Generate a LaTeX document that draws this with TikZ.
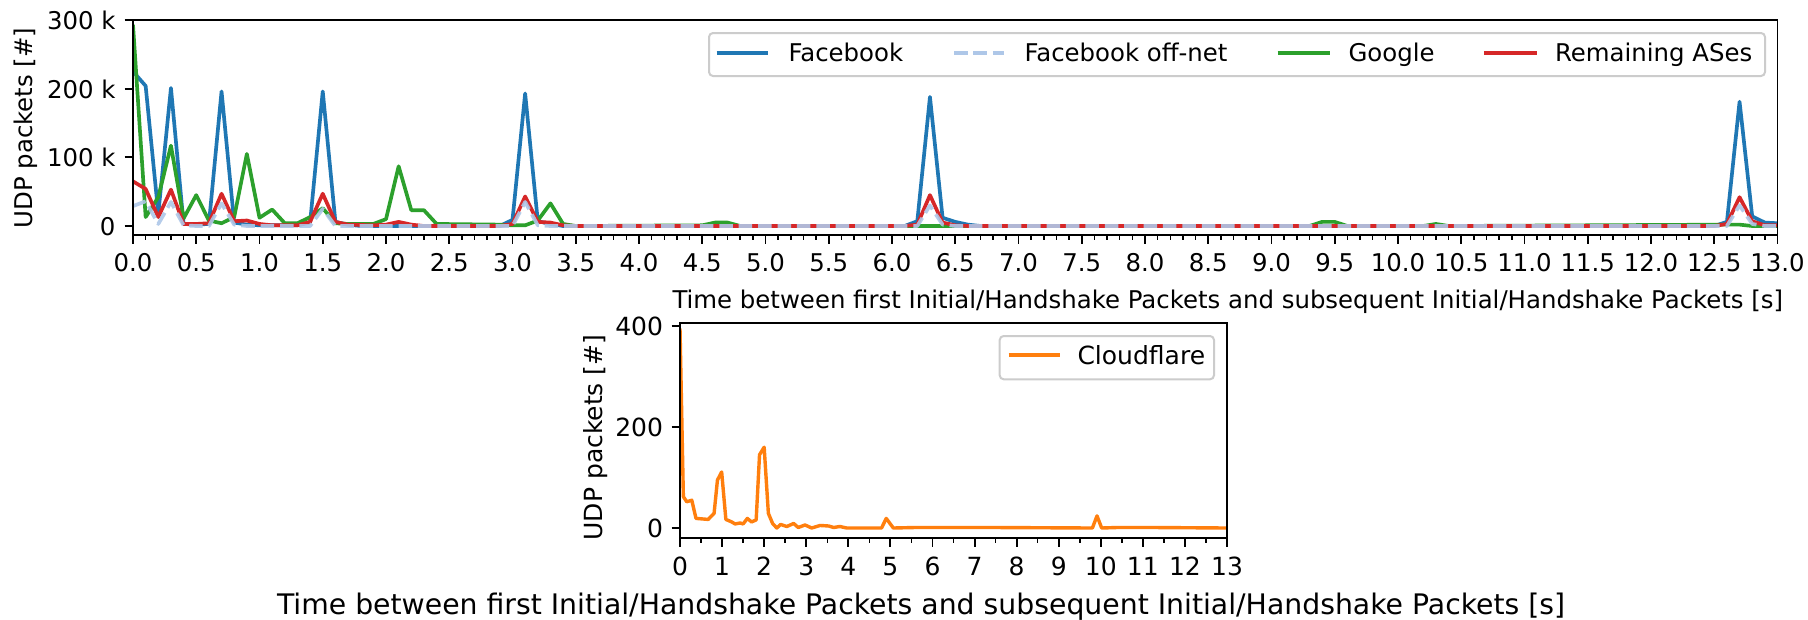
\documentclass[tikz,border=0pt]{standalone}
\usepackage{fontspec}
\setmainfont{DejaVu Sans}
\definecolor{mplblue}{HTML}{1F77B4}
\definecolor{mplorange}{HTML}{FF7F0E}
\definecolor{mplgreen}{HTML}{2CA02C}
\definecolor{mplred}{HTML}{D62728}
\definecolor{mpllight}{HTML}{AEC7E8}
\definecolor{legedge}{HTML}{CCCCCC}
\newcommand{\fta}{\fontsize{24.4}{29}\selectfont}
\newcommand{\ftb}{\fontsize{25}{30}\selectfont}
\newcommand{\ftc}{\fontsize{28.3}{34}\selectfont}
\begin{document}
\begin{tikzpicture}[x=1pt,y=-1pt,
  spine/.style={line width=1.95pt, black},
  majtick/.style={line width=1.95pt, black},
  mintick/.style={line width=1.46pt, black},
  series/.style={line width=3.66pt, line join=round},
  txt/.style={inner sep=0pt, outer sep=0pt},
  legbox/.style={draw=legedge, line width=2pt, fill=white, fill opacity=0.8, rounded corners=4pt},
  legline/.style={line width=3.66pt},
  offnet/.style={series, mpllight, dash pattern=on 13.5pt off 5.9pt}
]
\useasboundingbox (0,0) rectangle (1808,619);
\fill[white] (0,0) rectangle (1808,619);

% ---------------- top plot data ----------------
\begin{scope}[shift={(133,226)}, x=126.5pt, y=0.6867pt]
  \clip (0,-13.1) rectangle (13,300);
  \draw[series, mplblue] plot coordinates {(0,225) (0.1,204) (0.2,18) (0.3,201) (0.4,3) (0.5,2) (0.6,3) (0.7,196) (0.8,5) (0.9,2) (1.0,1) (1.3,1) (1.4,5) (1.5,196) (1.6,6) (1.7,2) (1.8,0) (2.9,0) (3.0,9) (3.1,193) (3.2,7) (3.3,3) (3.4,0) (6.1,0) (6.2,7) (6.3,188) (6.4,12) (6.5,6) (6.6,2) (6.7,0) (12.5,0) (12.6,6) (12.7,181) (12.8,14) (12.9,5) (13.0,4)};
  \draw[series, mplgreen] plot coordinates {(0,293) (0.1,13) (0.2,42) (0.3,117) (0.4,11) (0.5,45) (0.6,8) (0.7,4) (0.8,13) (0.9,105) (1.0,12) (1.1,24) (1.2,4) (1.3,4) (1.4,13) (1.5,26) (1.6,4) (1.7,3) (1.9,3) (2.0,10) (2.1,87) (2.2,23) (2.3,23) (2.4,3) (2.9,2) (3.0,1) (3.1,1) (3.2,8) (3.3,33) (3.4,3) (3.5,0) (4.5,1) (4.6,5) (4.7,5) (4.8,0) (6.2,0) (6.4,0) (9.3,0) (9.4,6) (9.5,6) (9.6,0) (10.2,0) (10.3,3) (10.4,0) (12.6,2) (12.7,2) (12.8,0) (13,0)};
  \draw[series, mplred] plot coordinates {(0,65) (0.1,54) (0.2,13) (0.3,53) (0.4,3) (0.5,3) (0.6,4) (0.7,47) (0.8,7) (0.9,8) (1.0,3) (1.1,1) (1.3,1) (1.4,6) (1.5,47) (1.6,6) (1.7,2) (1.9,1) (2.0,2) (2.1,6) (2.2,2) (2.3,0) (2.9,0) (3.0,3) (3.1,43) (3.2,6) (3.3,5) (3.4,1) (3.5,0) (6.1,0) (6.2,2) (6.3,45) (6.4,5) (6.5,1) (6.6,0) (12.5,0) (12.6,3) (12.7,42) (12.8,7) (12.9,1) (13,1)};
  \draw[offnet, opacity=0.9] plot coordinates {(0,29) (0.1,36) (0.2,3) (0.3,35) (0.4,1) (0.5,0) (0.6,0) (0.7,33) (0.8,2) (0.9,0) (1.4,0) (1.5,25) (1.6,0) (3.0,0) (3.1,35) (3.2,1) (3.3,0) (6.2,0) (6.3,30) (6.4,2) (6.5,0) (12.6,0) (12.7,30) (12.8,3) (12.9,0) (13,0)};
\end{scope}

% ---------------- top plot axes ----------------
\draw[spine] (133,20) rectangle (1777.5,235);
\foreach \i in {0,...,130}{
  \pgfmathsetmacro{\xx}{133+\i*12.65}
  \draw[mintick] (\xx,235) -- (\xx,239.9);
}
\foreach \i in {0,...,26}{
  \pgfmathsetmacro{\xx}{133+\i*63.25}
  \pgfmathsetmacro{\tv}{\i*0.5}
  \draw[majtick] (\xx,235) -- (\xx,243.5);
  \node[txt, anchor=base, font=\fta] (tx\i) at (\xx,271.5) {\pgfmathprintnumber[fixed,fixed zerofill,precision=1,assume math mode=true]{\tv}};
}
\foreach \yy/\lab [count=\k] in {226/0, 157.33/100 k, 88.67/200 k, 20/300 k}{
  \draw[majtick] (124.5,\yy) -- (133,\yy);
  \node[txt, anchor=base east, font=\fta] (ty\k) at (115.5,\yy+9.4) {\lab};
}
\node[txt, anchor=base west, font=\fta] (xlabtop) at (672.5,308.3) {Time between first Initial/Handshake Packets and subsequent Initial/Handshake Packets [s]};
\node[txt, rotate=90, anchor=base, font=\fta] (ylabtop) at (32,128) {UDP packets [\#]};

% ---------------- top legend ----------------
\draw[legbox] (709,33) rectangle (1765,76);
\coordinate (l1a) at (716.7,52.7); \coordinate (l1b) at (768.4,52.7);
\coordinate (l2a) at (954,52.7);   \coordinate (l2b) at (1003.7,52.7);
\coordinate (l3a) at (1277.5,52.7); \coordinate (l3b) at (1329.9,52.7);
\coordinate (l4a) at (1483.8,52.7); \coordinate (l4b) at (1536.6,52.7);
\draw[legline, mplblue] (l1a) -- (l1b);
\draw[legline, mpllight, dash pattern=on 13.5pt off 5.9pt] (l2a) -- (l2b);
\draw[legline, mplgreen] (l3a) -- (l3b);
\draw[legline, mplred] (l4a) -- (l4b);
\node[txt, anchor=base west, font=\fta] (lg1) at (788.5,61) {Facebook};
\node[txt, anchor=base west, font=\fta] (lg2) at (1024.5,61) {Facebook off-net};
\node[txt, anchor=base west, font=\fta] (lg3) at (1348.5,61) {Google};
\node[txt, anchor=base west, font=\fta] (lg4) at (1555,61) {Remaining ASes};

% ---------------- bottom plot data ----------------
\begin{scope}[shift={(680,528)}, x=42.08pt, y=0.505pt]
  \clip (0,-20) rectangle (13,405);
  \draw[series, line width=3.4pt, mplorange] plot coordinates {(0,395) (0.08,62) (0.16,52) (0.28,55) (0.38,19) (0.67,17) (0.81,29) (0.89,95) (0.99,111) (1.09,17) (1.23,12) (1.31,8) (1.43,10) (1.5,8) (1.6,19) (1.7,12) (1.81,16) (1.89,145) (2.0,160) (2.1,29) (2.2,9) (2.3,0) (2.39,7) (2.54,3) (2.7,9) (2.81,1) (2.97,6) (3.13,0) (3.33,5) (3.53,4) (3.65,1) (3.8,3) (3.96,0) (4.79,0) (4.9,19) (5.07,0) (5.6,1) (7.4,1) (9.8,0) (9.91,24) (10.02,0) (10.4,1) (11.2,1) (13,0)};
\end{scope}

% ---------------- bottom plot axes ----------------
\draw[spine] (680,323.3) rectangle (1227,538.3);
\foreach \i in {0,...,12}{
  \pgfmathsetmacro{\xx}{680+(\i+0.5)*42.08}
  \draw[mintick] (\xx,538.3) -- (\xx,543.2);
}
\foreach \i in {0,...,13}{
  \pgfmathsetmacro{\xx}{680+\i*42.08}
  \draw[majtick] (\xx,538.3) -- (\xx,546.8);
  \node[txt, anchor=base, font=\ftb] (bx\i) at (\xx,575) {\i};
}
\foreach \yy/\lab [count=\k] in {528/0, 427/200, 326/400}{
  \draw[majtick] (671.5,\yy) -- (680,\yy);
  \node[txt, anchor=base east, font=\ftb] (by\k) at (663,\yy+9.6) {\lab};
}
\node[txt, anchor=base west, font=\ftc] (xlabbot) at (277,614) {Time between first Initial/Handshake Packets and subsequent Initial/Handshake Packets [s]};
\node[txt, rotate=90, anchor=base, font=\ftb] (ylabbot) at (602,437.5) {UDP packets [\#]};

% ---------------- bottom legend ----------------
\draw[legbox] (999.7,336) rectangle (1214,379.3);
\coordinate (l5a) at (1008.7,355); \coordinate (l5b) at (1060,355);
\draw[legline, line width=3.4pt, mplorange] (l5a) -- (l5b);
\node[txt, anchor=base west, font=\ftb] (lg5) at (1077.5,364) {Cloudflare};
\end{tikzpicture}
\end{document}
